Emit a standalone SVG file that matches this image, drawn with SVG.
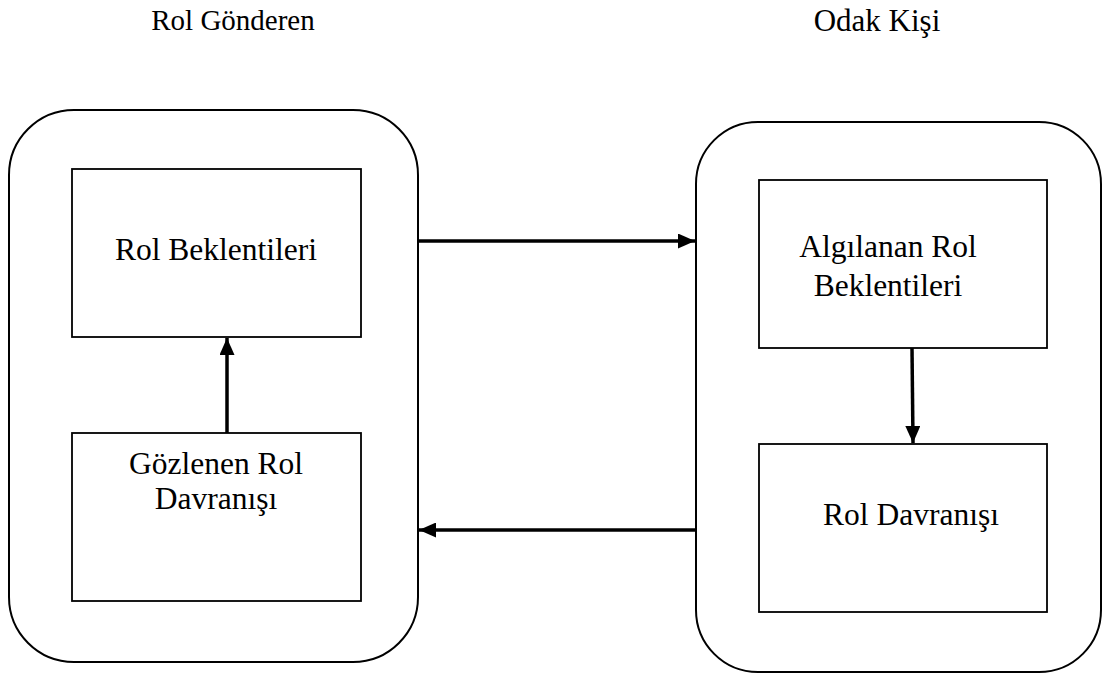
<svg xmlns="http://www.w3.org/2000/svg" width="1102" height="679" viewBox="0 0 1102 679">
<defs>
<style>
.outer{fill:none;stroke:#000;stroke-width:2}
.box{fill:#fff;stroke:#000;stroke-width:1.8}
.t{font-family:"Liberation Serif","Times New Roman",serif;font-size:31.5px;fill:#000;text-anchor:middle}
.title{font-family:"Liberation Serif","Times New Roman",serif;font-size:29px;fill:#000;text-anchor:middle}
.c{stroke:#000;stroke-width:3.5;fill:none}
</style>
<marker id="ah" markerUnits="userSpaceOnUse" markerWidth="17" markerHeight="15" refX="17" refY="7.5" orient="auto">
<path d="M0,0 L17,7.5 L0,15 z" fill="#000"/>
</marker>
</defs>
<rect width="1102" height="679" fill="#fff"/>
<text class="title" x="233" y="30">Rol Gönderen</text>
<text class="title" x="877" y="31" style="font-size:31px">Odak Kişi</text>
<g id="rol-gonderen">
<rect class="outer" x="9" y="110" width="409" height="552" rx="65" ry="65"/>
</g>
<g id="odak-kisi">
<rect class="outer" x="696" y="122" width="405" height="550" rx="62" ry="62"/>
</g>
<g id="rol-beklentileri">
<rect class="box" x="72" y="169" width="289" height="168"/>
<text class="t" x="216" y="260">Rol Beklentileri</text>
</g>
<g id="gozlenen-rol-davranisi">
<rect class="box" x="72" y="433" width="289" height="168"/>
<text class="t" x="216" y="474">Gözlenen Rol</text>
<text class="t" x="216" y="509">Davranışı</text>
</g>
<g id="algilanan-rol-beklentileri">
<rect class="box" x="759" y="180" width="288" height="168"/>
<text class="t" x="888" y="257">Algılanan Rol</text>
<text class="t" x="888" y="296">Beklentileri</text>
</g>
<g id="rol-davranisi">
<rect class="box" x="759" y="444" width="288" height="168"/>
<text class="t" x="911" y="525">Rol Davranışı</text>
</g>
<g id="connectors">
<line class="c" x1="227" y1="433" x2="227" y2="338" marker-end="url(#ah)"/>
<line class="c" x1="418" y1="241" x2="695" y2="241" marker-end="url(#ah)"/>
<line class="c" x1="912" y1="348" x2="913" y2="443" marker-end="url(#ah)"/>
<line class="c" x1="696" y1="530" x2="419" y2="530" marker-end="url(#ah)"/>
</g>
</svg>
